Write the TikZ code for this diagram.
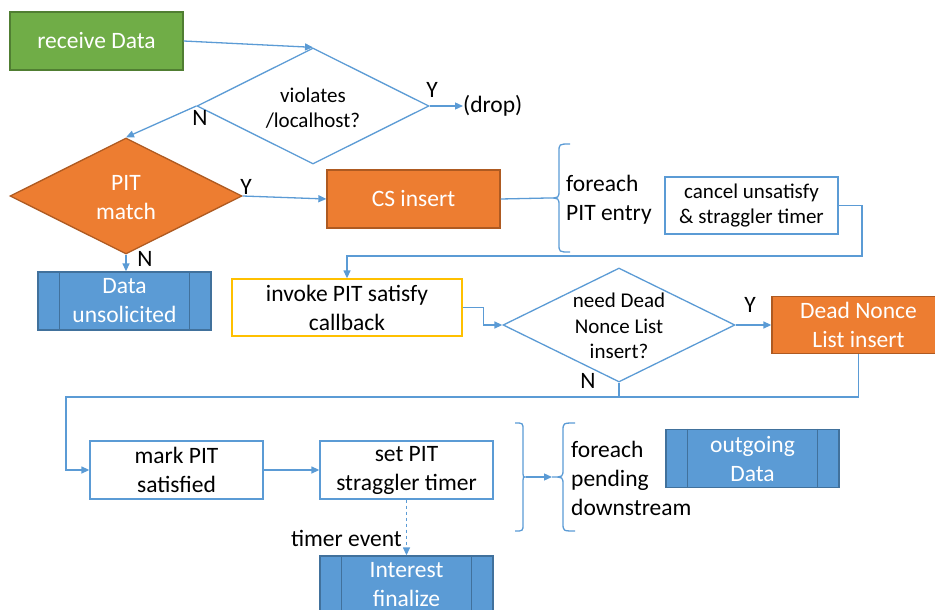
\documentclass[tikz,border=0pt]{standalone}
\usepackage{fontspec}
\setmainfont{Carlito}
\usetikzlibrary{shapes.geometric,arrows.meta}
\definecolor{lblue}{HTML}{5B9BD5}
\definecolor{dblue}{HTML}{41719C}
\definecolor{gfill}{HTML}{70AD47}
\definecolor{gline}{HTML}{507E32}
\definecolor{ofill}{HTML}{ED7D31}
\definecolor{oline}{HTML}{AE5A21}
\definecolor{gold}{HTML}{FFC000}
\tikzset{
  big/.style={font=\fontsize{23.5}{29}\selectfont},
  small/.style={font=\fontsize{21}{25.5}\selectfont},
  box/.style={rectangle, minimum width=173pt, minimum height=58pt, inner sep=0pt, align=center, big, line width=1.3pt},
  greenbox/.style={box, fill=gfill, draw=gline, text=white},
  orangebox/.style={box, fill=ofill, draw=oline, text=white},
  bluebox/.style={box, fill=lblue, draw=dblue, text=white},
  whitebox/.style={box, fill=white, draw=lblue},
  dia/.style={diamond, inner sep=0pt, minimum width=232pt, minimum height=116pt, line width=1.3pt},
  conn/.style={draw=lblue, line width=1.3pt},
  arr/.style={conn, -{Triangle[length=8pt,width=7pt]}},
  lbl/.style={big, inner sep=0pt},
}
\begin{document}
\begin{tikzpicture}[x=1pt, y=-1pt]
\useasboundingbox (0,0) rectangle (935,610);
\clip (0,0) rectangle (935,610);
% nodes
\node[greenbox] (recv) at (96.5,41) {receive Data};
\node[dia, draw=lblue, fill=white] (viol) at (313,106) {};
\node[small, align=center, inner sep=0pt] (violt) at (313,108) {violates\\/localhost?};
\node[lbl, anchor=west] (drop) at (463,106) {(drop)};
\node[lbl] (yv) at (432,90) {Y};
\node[lbl] (nv) at (200,118) {N};
\node[dia, fill=ofill, draw=oline] (pit) at (126,196) {};
\node[big, align=center, inner sep=0pt, text=white] (pitt) at (126,198) {PIT\\match};
\node[lbl] (yp) at (246,187) {Y};
\node[lbl] (np) at (145,259) {N};
\node[orangebox] (cs) at (413.5,199) {CS insert};
\node[bluebox] (unsol) at (124.5,301) {Data\\unsolicited};
\coordinate (b1tip) at (548,198);
\node[lbl, anchor=west, align=left] (fpe) at (566,200) {foreach\\PIT entry};
\node[whitebox, small, minimum height=57pt] (cancel) at (751.5,205.5) {cancel unsatisfy\\\& straggler timer};
\coordinate (c1) at (862,256);
\node[whitebox, draw=gold, minimum width=230pt, minimum height=57pt] (inv) at (347,307.5) {invoke PIT satisfy\\callback};
\node[dia, minimum height=114pt, draw=lblue, fill=white] (nd) at (619,325) {};
\node[small, align=center, inner sep=0pt] (ndt) at (619,326) {need Dead\\Nonce List\\insert?};
\node[lbl] (yn) at (750,305) {Y};
\node[lbl] (nn) at (588,381) {N};
\node[orangebox, minimum height=57pt] (dnl) at (858.5,325) {Dead Nonce\\List insert};
\coordinate (c2) at (66,397);
\node[whitebox] (mark) at (176.5,470) {mark PIT\\satisfied};
\node[whitebox] (set) at (406.5,470) {set PIT\\straggler timer};
\node[bluebox] (fin) at (406.5,585) {Interest\\finalize};
\node[lbl, anchor=east] (te) at (402,538) {timer event};
\coordinate (b2tip) at (526,477);
\coordinate (b3tip) at (552,477);
\node[lbl, anchor=west, align=left] (fpd) at (571,478) {foreach\\pending\\downstream};
\node[bluebox] (out) at (752.5,458.5) {outgoing\\Data};
% predefined-process inner lines
\foreach \n in {unsol, fin, out} {
  \draw[dblue, line width=1.1pt] ([xshift=22pt]\n.north west) -- ([xshift=22pt]\n.south west);
  \draw[dblue, line width=1.1pt] ([xshift=-22pt]\n.north east) -- ([xshift=-22pt]\n.south east);
}
% braces
\draw[conn] (570,144) .. controls (559,144) .. (559,152) -- (559,190) .. controls (559,198) .. (b1tip)
  .. controls (559,198) .. (559,206) -- (559,244) .. controls (559,252) .. (570,252);
\draw[conn] (515,423) .. controls (523,423) .. (523,430) -- (523,470) .. controls (523,477) .. (b2tip)
  .. controls (523,477) .. (523,484) -- (523,524) .. controls (523,531) .. (515,531);
\draw[conn] (575,423) .. controls (563,423) .. (563,431) -- (563,469) .. controls (563,477) .. (b3tip)
  .. controls (563,477) .. (563,485) -- (563,523) .. controls (563,531) .. (575,531);
% connectors
\draw[arr] (recv.east) -- (viol.north);
\draw[arr] (viol.east) -- (drop.west);
\draw[arr] (viol.west) -- (pit.north);
\draw[arr] (pit.east) -- (cs.west);
\draw[arr] (pit.south) -- (pit.south |- unsol.north);
\draw[conn] (cs.east) -- (b1tip);
\draw[arr] (cancel.east) -| (c1) -| (inv.north);
\draw[arr] (inv.east) -- ++(21,0) |- (nd.west);
\draw[arr] (nd.east) -- (dnl.west);
\draw[arr] (dnl.south) |- (c2) |- (mark.west);
\draw[conn] (nd.south) -- (nd.south |- c2);
\draw[arr] (mark.east) -- (set.west);
\draw[arr, dashed] (set.south) -- (fin.north);
\draw[arr] (b2tip) -- (b3tip);
\end{tikzpicture}
\end{document}
